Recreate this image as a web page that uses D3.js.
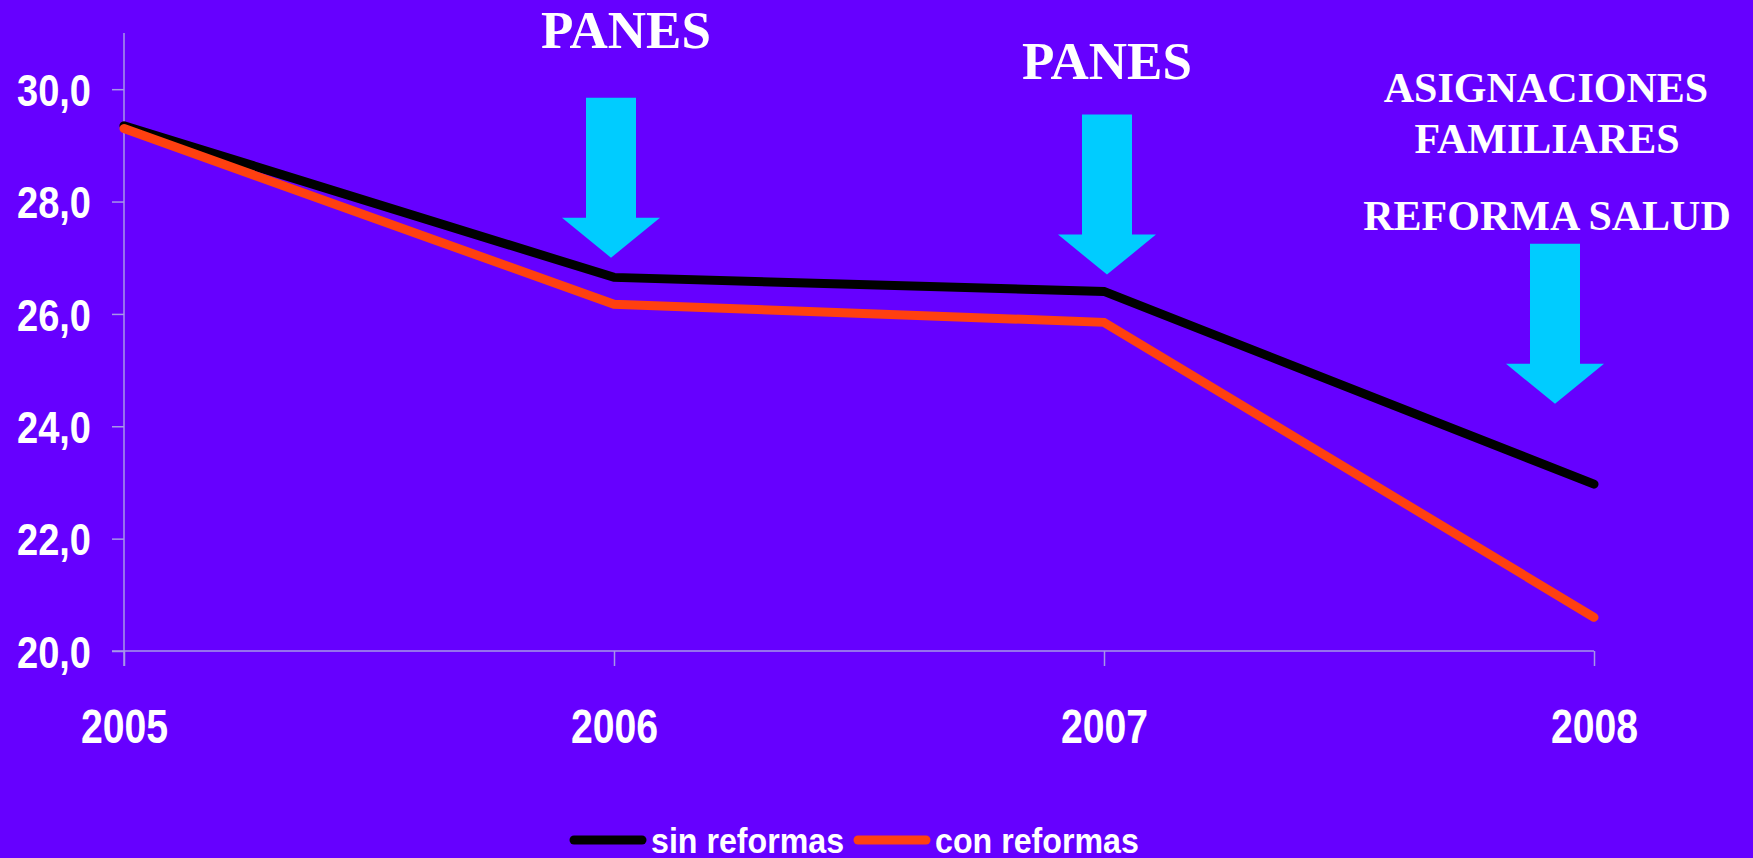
<!DOCTYPE html>
<html lang="es">
    <head>
        <meta charset="UTF-8">
        <title>sin reformas / con reformas</title>
        <script src="https://d3js.org/d3.v7.min.js"></script>
        <style>
            body { margin: 0; padding: 0; width: 1753px; height: 858px; overflow: hidden; background: #6600ff; }
            svg { display: block; }
            .lbl { font-family: "Liberation Sans", Arial, sans-serif; font-weight: bold; fill: #fff; }
            .note { font-family: "Liberation Serif", "Times New Roman", serif; font-weight: bold; fill: #fff; }
        </style>
    </head>
    <body>
        <svg id="chart" width="1753" height="858"></svg>

        <script>
            const years = ["2005", "2006", "2007", "2008"];
            const sinReformas = [29.35, 26.65, 26.4, 22.97];
            const conReformas = [29.3, 26.17, 25.85, 20.6];
            const yTicks = [20, 22, 24, 26, 28, 30];
            const seriesNames = ["sin reformas", "con reformas"];
            const seriesColors = ["#000000", "#ff4010"];

            // arrows: year they point at, value at the tip, x nudge in px
            const arrowYears = ["2006", "2007", "2008"];
            const arrowTips = [27.0, 26.7, 24.4];
            const arrowNudge = [-3, 3, -39];

            const svg = d3.select("#chart");

            const x = d3.scalePoint().domain(years).range([124, 1594]);
            const y = d3.scaleLinear().domain([20, 31]).range([651, 33]);
            const axisColor = "#a796e8";

            // the slide font is a squeezed arial, fake it with a horizontal scale
            function narrow(sel, k) {
                sel.each(function() {
                    const t = d3.select(this);
                    const tx = +t.attr("x") || 0, ty = +t.attr("y") || 0;
                    t.attr("x", 0).attr("y", 0).attr("transform", `translate(${tx},${ty}) scale(${k},1)`);
                });
            }

            // y axis
            const yAxis = svg.append("g").attr("transform", "translate(124,0)")
                .call(d3.axisLeft(y).tickValues(yTicks).tickSize(12).tickPadding(21)
                    .tickFormat(d => d3.format(".1f")(d).replace(".", ",")));
            yAxis.select(".domain").remove();
            yAxis.selectAll("line").attr("stroke", axisColor).attr("stroke-width", 1.5);
            yAxis.selectAll("text").attr("class", "lbl").attr("font-size", 45).attr("dy", "0.36em")
                .call(narrow, 0.845);
            svg.append("line").attr("x1", 124).attr("x2", 124).attr("y1", y(31)).attr("y2", y(20) + 15)
                .attr("stroke", axisColor).attr("stroke-width", 1.5);

            // x axis
            const xAxis = svg.append("g").attr("transform", `translate(0,${y(20)})`)
                .call(d3.axisBottom(x).tickSize(15).tickPadding(77));
            xAxis.select(".domain").remove();
            xAxis.selectAll("line").attr("stroke", axisColor).attr("stroke-width", 1.5);
            xAxis.selectAll("text").attr("class", "lbl").attr("font-size", 49).attr("dy", 0)
                .call(narrow, 0.8);
            svg.append("line").attr("x1", 112).attr("x2", 1594).attr("y1", y(20)).attr("y2", y(20))
                .attr("stroke", axisColor).attr("stroke-width", 1.5);

            // lines
            const line = d3.line().x((d, i) => x(years[i])).y(d => y(d));
            [sinReformas, conReformas].forEach((s, k) => {
                svg.append("path").datum(s)
                    .attr("d", line)
                    .attr("fill", "none")
                    .attr("stroke", seriesColors[k])
                    .attr("stroke-width", 9)
                    .attr("stroke-linejoin", "miter")
                    .attr("stroke-linecap", "round");
            });

            // arrows
            arrowYears.forEach((yr, i) => {
                const cx = x(yr) + arrowNudge[i];
                const tip = y(arrowTips[i]);
                const pts = [
                    [cx - 25, tip - 160], [cx + 25, tip - 160], [cx + 25, tip - 40],
                    [cx + 49, tip - 40], [cx, tip], [cx - 49, tip - 40], [cx - 25, tip - 40]
                ];
                svg.append("polygon").attr("points", pts.map(p => p.join(",")).join(" "))
                    .attr("fill", "#00ccff");
            });

            // annotation text
            const notes = [
                {t: "PANES", x: 626, y: 48, s: 53},
                {t: "PANES", x: 1107, y: 79, s: 53},
                {t: "ASIGNACIONES", x: 1546, y: 102, s: 42},
                {t: "FAMILIARES", x: 1547, y: 153, s: 42},
                {t: "REFORMA SALUD", x: 1547, y: 230, s: 42}
            ];
            svg.selectAll(".note").data(notes).enter().append("text")
                .attr("class", "note")
                .attr("x", d => d.x).attr("y", d => d.y)
                .attr("text-anchor", "middle")
                .attr("font-size", d => d.s)
                .text(d => d.t);

            // legend
            const legendX = [574, 858];
            seriesNames.forEach((n, k) => {
                const g = svg.append("g").attr("transform", `translate(${legendX[k]},840)`);
                g.append("line").attr("x1", 0).attr("x2", 68).attr("y1", 0).attr("y2", 0)
                    .attr("stroke", seriesColors[k]).attr("stroke-width", 9).attr("stroke-linecap", "round");
                g.append("text").attr("class", "lbl").attr("x", 77).attr("y", 13)
                    .attr("font-size", 35).text(n)
                    .call(narrow, 0.92);
            });
        </script>
    </body>
</html>
